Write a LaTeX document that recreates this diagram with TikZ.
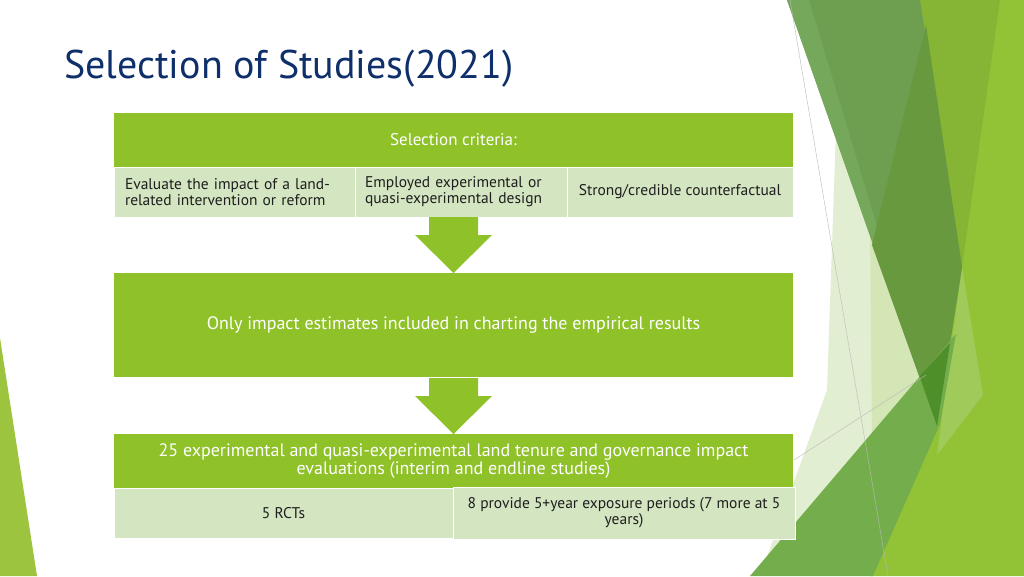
\documentclass[tikz,border=0pt]{standalone}
\usepackage{fontspec}
\setmainfont{PT Sans}
\usetikzlibrary{positioning}

\definecolor{facetgreen}{HTML}{8FC129}
\definecolor{celllight}{HTML}{D4E5C1}
\definecolor{celltext}{HTML}{1E1E1E}
\definecolor{titleblue}{HTML}{0F2F6B}
\definecolor{leafbright}{HTML}{92C337}
\definecolor{leafmid}{HTML}{86B535}
\definecolor{leafmuted}{HTML}{6E9E4F}
\definecolor{leafstrip}{HTML}{76A85C}
\definecolor{leafdeep}{HTML}{68993F}
\definecolor{leafpale}{HTML}{E2EED2}
\definecolor{leafpaletwo}{HTML}{D4E6B6}
\definecolor{leafsliver}{HTML}{A0CA59}
\definecolor{leafmedium}{HTML}{74AE4C}
\definecolor{leafdark}{HTML}{4E8F2A}
\definecolor{leafleft}{HTML}{9DC43F}

\begin{document}
\begin{tikzpicture}[
    x=1pt, y=-1pt,
    box/.style={rectangle, fill=facetgreen, text=white, inner sep=0pt, outer sep=0pt,
                minimum width=679pt, minimum height=54pt, align=center,
                font=\fontsize{17}{20}\selectfont},
    cell/.style={rectangle, fill=celllight, draw=white, line width=0.6pt, inner sep=0pt,
                 outer sep=0pt, minimum height=50pt, text=celltext,
                 font=\fontsize{15.5}{16}\selectfont},
    blockarrow/.style={fill=facetgreen},
    thinline/.style={draw=gray!55, line width=0.4pt}
]
\useasboundingbox (0,0) rectangle (1024,576);
\fill[white] (0,0) rectangle (1024,576);

% facets on the left and right
\fill[leafleft] (0,338) -- (0,576) -- (37,576) -- cycle;
\fill[leafbright] (920,0) -- (1024,0) -- (1024,576) -- (870,576) -- (937,426) -- cycle;
\fill[leafmid] (920,0) -- (1000,0) -- (962,267) -- cycle;
\fill[leafsliver] (962,267) -- (983,395) -- (937,455) -- cycle;
\fill[leafpale] (836,130) -- (932,405) -- (760,576) -- (827,390) -- cycle;
\fill[leafpaletwo] (870,230) -- (932,405) -- (872,440) -- cycle;
\fill[leafmuted] (787,0) -- (920,0) -- (962,267) -- (937,426) -- cycle;
\fill[leafstrip] (787,0) -- (809,0) -- (937,426) -- cycle;
\fill[leafdeep] (926,25) -- (962,267) -- (937,426) -- (872,245) -- cycle;
\fill[leafmedium] (956,334) -- (940,424) -- (873,576) -- (750,576) -- cycle;
\fill[leafdark] (919.5,376.3) -- (950,343) -- (937,426) -- cycle;
\draw[thinline] (790,0) -- (888,576);
\draw[thinline] (926,375) -- (794,460);

% title
\node[anchor=base west, inner sep=0pt, text=titleblue, font=\fontsize{40}{46}\selectfont]
    (title) at (64,78) {Selection of Studies(2021)};

% criteria table
\node[box, anchor=north west] (crit) at (114,113) {Selection criteria:};
\node[cell, anchor=north west, text width=219pt, inner xsep=11pt, align=left]
    (c1) at (crit.south west) {Evaluate the impact of a land-\\related intervention or reform};
\node[cell, right=0pt of c1, text width=192pt, inner xsep=10pt, align=left]
    (c2) {Employed experimental or\\quasi-experimental design};
\node[cell, right=0pt of c2, minimum width=226pt, align=center]
    (c3) {Strong/credible counterfactual};

% filter
\node[box, anchor=north west, minimum height=104pt, font=\fontsize{18}{21}\selectfont]
    (res) at (114,273) {Only impact estimates included in charting the empirical results};

% outcome table
\node[box, anchor=north west, font=\fontsize{18}{18}\selectfont] (outc) at (114,434)
    {25 experimental and quasi-experimental land tenure and governance impact\\evaluations (interim and endline studies)};
\node[cell, anchor=north west, minimum width=339pt, align=center] (o1) at (outc.south west) {5 RCTs};
\node[cell, right=0pt of o1, minimum width=342pt, minimum height=52pt, align=center]
    (o2) {8 provide 5+year exposure periods (7 more at 5\\years)};

% block arrows
\fill[blockarrow] (res.north) -- ++(-38.5,-38) -- ++(14,0) -- ++(0,-18) -- ++(49,0)
    -- ++(0,18) -- ++(14,0) -- cycle;
\fill[blockarrow] (outc.north) -- ++(-38.5,-38) -- ++(14,0) -- ++(0,-18) -- ++(49,0)
    -- ++(0,18) -- ++(14,0) -- cycle;
\end{tikzpicture}
\end{document}
